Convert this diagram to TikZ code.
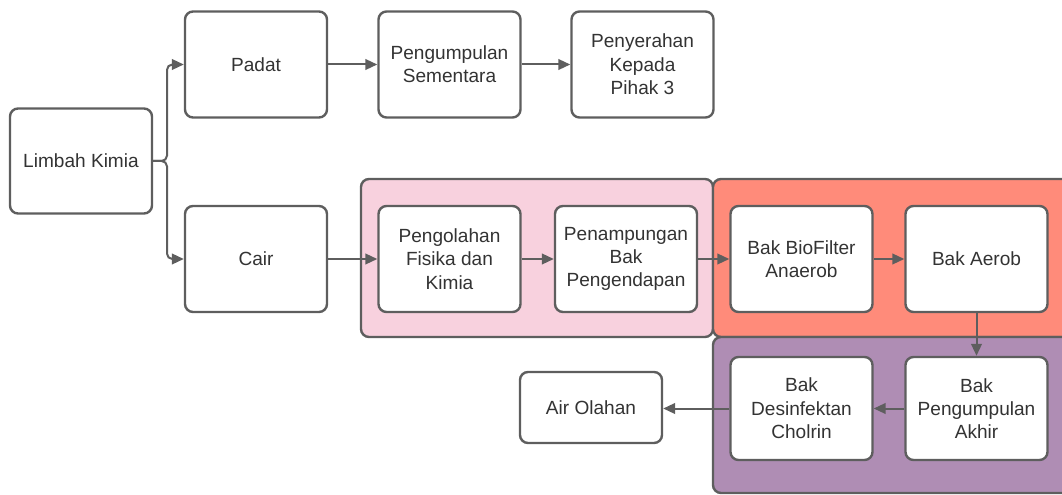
\documentclass[tikz,border=0pt]{standalone}
\usepackage{fontspec}
\setmainfont{Liberation Sans}
\usetikzlibrary{arrows.meta}
\definecolor{edge}{HTML}{5E5E5E}
\definecolor{pinkg}{HTML}{F8D1DE}
\definecolor{redg}{HTML}{FF8B7A}
\definecolor{purpg}{HTML}{AF8DB4}
\definecolor{txt}{HTML}{333333}
\tikzset{
  box/.style={draw=edge, line width=1.8pt, rounded corners=6pt, fill=white, inner sep=0pt,
    minimum width=106.5pt, minimum height=79.5pt, align=center, text=txt,
    font=\fontsize{14.3}{17.5}\selectfont},
  grp/.style={draw=edge, line width=1.8pt, rounded corners=6pt},
  arr/.style={draw=edge, line width=1.5pt, -{Triangle[length=9pt,width=8pt]}},
}
\begin{document}
\begin{tikzpicture}[x=0.75pt,y=-0.75pt]
\useasboundingbox (0,0) rectangle (1062,495);
% groups
\draw[grp, fill=pinkg] (361,179) rectangle (713,337);
\draw[grp, fill=redg] (713,179) rectangle (1075,337);
\draw[grp, fill=purpg] (713,337) rectangle (1075,493);
% nodes
\node[box, minimum height=78.75pt] (limbah) at (81,161) {Limbah Kimia};
\node[box] (padat) at (256,64.5) {Padat};
\node[box] (pengsem) at (449.5,64.5) {Pengumpulan\\Sementara};
\node[box] (serah) at (642.5,64.5) {Penyerahan\\Kepada\\Pihak 3};
\node[box] (cair) at (256,259) {Cair};
\node[box] (olah) at (449.5,259) {Pengolahan\\Fisika dan\\Kimia};
\node[box] (tampung) at (626,259) {Penampungan\\Bak\\Pengendapan};
\node[box] (bio) at (801.5,259) {Bak BioFilter\\Anaerob};
\node[box] (aerob) at (976.5,259) {Bak Aerob};
\node[box, minimum height=77.25pt] (akhir) at (976.5,408.5) {Bak\\Pengumpulan\\Akhir};
\node[box, minimum height=77.25pt] (desinf) at (801.5,408.5) {Bak\\Desinfektan\\Cholrin};
\node[box, minimum height=53.25pt] (air) at (591,407.5) {Air Olahan};
% connectors
\coordinate (j) at (167,161);
\draw[arr, rounded corners=4pt] (limbah.east) -- (j) |- (padat.west);
\draw[arr, rounded corners=4pt] (limbah.east) -- (j) |- (cair.west);
\draw[arr] (padat) -- (pengsem);
\draw[arr] (pengsem) -- (serah);
\draw[arr] (cair) -- (olah);
\draw[arr] (olah) -- (tampung);
\draw[arr] (tampung) -- (bio);
\draw[arr] (bio) -- (aerob);
\draw[arr] (aerob) -- (akhir);
\draw[arr] (akhir) -- (desinf);
\draw[arr] (desinf.west) -- (air.east |- desinf.west);
\end{tikzpicture}
\end{document}
